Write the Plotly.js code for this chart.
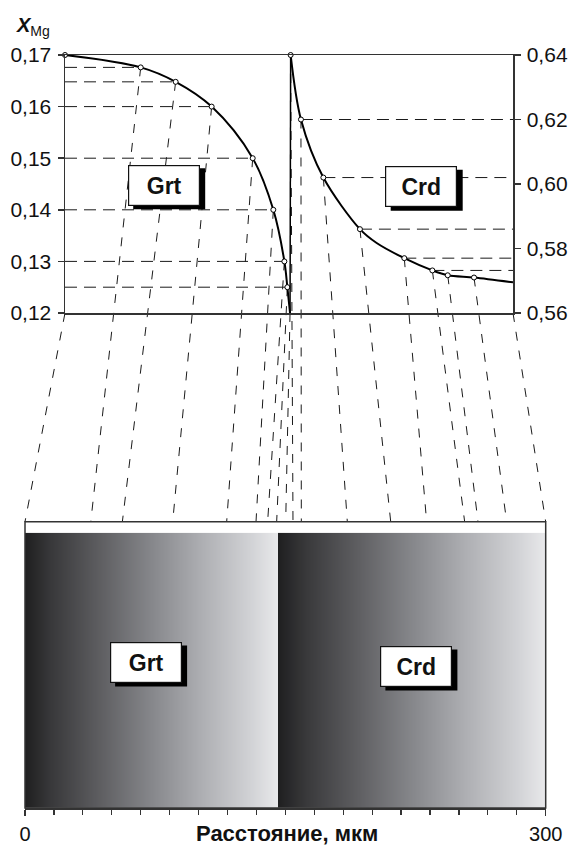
<!DOCTYPE html>
<html><head><meta charset="utf-8">
<script src="https://cdn.plot.ly/plotly-3.0.1.min.js"></script>
<style>html,body{margin:0;padding:0;background:#fff}#chart{width:568px;height:848px}</style>
</head><body><div id="chart"></div>
<script>
// ---------------- DATA ----------------
// Garnet (Grt): position on the profile plot (µm), X_Mg, and matching position on the grain sketch (µm)
const grtProfileX = [0, 50.7, 74.1, 98.2, 125.7, 139.5, 146.9, 148.9, 150.7];
const grtXMg      = [0.170, 0.1676, 0.1648, 0.160, 0.150, 0.140, 0.130, 0.125, 0.120];
const grtGrainX   = [0, 37.9, 56.1, 85.1, 116.2, 133.1, 139.8, 145.0, 150.2];
// Cordierite (Crd)
const crdProfileX = [151.1, 158.0, 173.0, 197.5, 227.2, 246.0, 256.3, 273.9, 300];
const crdXMg      = [0.640, 0.620, 0.602, 0.586, 0.577, 0.5732, 0.5717, 0.5710, 0.5695];
const crdGrainX   = [154.4, 159.2, 185.7, 210.7, 231.4, 253.3, 261.0, 277.5, 300];
// Crd curve vertices (includes the bend that carries no marker)
const crdCurveX = [151.1, 158.0, 173.0, 197.5, 208.7, 227.2, 246.0, 256.3, 273.9, 300];
const crdCurveY = [0.640, 0.620, 0.602, 0.586, 0.5817, 0.577, 0.5732, 0.5717, 0.5710, 0.5695];
// which points get a horizontal dashed guide to their axis
const grtGuideIdx = [1, 2, 3, 4, 5, 6, 7];
const crdGuideIdx = [1, 2, 3, 4, 5];
// axes ticks
const leftTicks  = [0.12, 0.13, 0.14, 0.15, 0.16, 0.17];
const rightTicks = [0.56, 0.58, 0.60, 0.62, 0.64];
const distTicks  = [0, 300];
const distMinorStep = 50 / 3;
// grain sketch shading (dark at the left of each grain, light at its right)
const shadeX     = [0, 145.5, 145.7, 300];
const shadeLevel = [0, 1, 0, 1];
const shadeRows  = [0, 1];

// ---------------- LAYOUT ----------------
const W = 568, H = 848;
const px = v => v / W, py = v => 1 - v / H;
const AX = '#333333';
const FONT = 'Liberation Sans, Arial, Helvetica, sans-serif';
const topYDomain = [py(313), py(55)];

const layout = {
  width: W, height: H,
  margin: {l: 0, r: 0, t: 0, b: 0},
  paper_bgcolor: '#ffffff', plot_bgcolor: 'rgba(0,0,0,0)',
  separators: ',.', showlegend: false,
  font: {family: FONT, size: 21, color: '#111'},
  xaxis: {domain: [px(65), px(513)], range: [0, 300], anchor: 'y',
    showline: true, mirror: true, linecolor: AX, linewidth: 1.5,
    showticklabels: false, ticks: '', showgrid: false, zeroline: false, fixedrange: true},
  yaxis: {domain: topYDomain, range: [0.12, 0.17], anchor: 'x',
    tickmode: 'array', tickvals: leftTicks, tickformat: '.2f',
    ticks: 'outside', ticklen: 6, tickwidth: 1.5, tickcolor: AX,
    showline: true, linecolor: AX, linewidth: 1.5, showgrid: false, zeroline: false,
    ticklabelstandoff: 2, tickfont: {size: 21}, fixedrange: true},
  yaxis2: {overlaying: 'y', side: 'right', anchor: 'x', range: [0.56, 0.64],
    tickmode: 'array', tickvals: rightTicks, tickformat: '.2f',
    ticks: 'outside', ticklen: 6, tickwidth: 1.5, tickcolor: AX,
    showline: true, linecolor: AX, linewidth: 1.5, showgrid: false, zeroline: false,
    ticklabelstandoff: 2, tickfont: {size: 21}, fixedrange: true},
  xaxis2: {domain: [px(25), px(545.7)], range: [0, 300], anchor: 'y3',
    tickmode: 'array', tickvals: distTicks,
    ticks: 'outside', ticklen: 6, tickwidth: 1.3, tickcolor: AX,
    minor: {tickmode: 'linear', tick0: 0, dtick: distMinorStep, ticks: 'outside', ticklen: 5, tickwidth: 1.2, tickcolor: AX},
    showline: true, linecolor: AX, linewidth: 1.5, showgrid: false, zeroline: false,
    tickfont: {size: 20}, ticklabelstandoff: 1, fixedrange: true},
  yaxis3: {domain: [py(808), py(532.7)], range: [-0.5, 1.5], anchor: 'x2',
    showline: false, showticklabels: false, ticks: '', showgrid: false, zeroline: false, fixedrange: true},
  shapes: [], annotations: []
};

// convert a data value to paper coordinates through an axis range and a domain
function toPaper(ax, v, domain) {
  const d = domain || ax.domain, r = ax.range;
  return d[0] + (v - r[0]) / (r[1] - r[0]) * (d[1] - d[0]);
}
const grainTopY = py(521.7);

// fan lines linking each profile point to its place on the grain sketch
function fan(x0p, y0p, xGrain) {
  layout.shapes.push({type: 'line', xref: 'paper', yref: 'paper', layer: 'below',
    x0: x0p, y0: y0p, x1: toPaper(layout.xaxis2, xGrain), y1: grainTopY,
    line: {color: '#1a1a1a', width: 1, dash: '9px,10px'}});
}
grtProfileX.forEach((x, i) => {
  const yv = i === 0 ? layout.yaxis.range[0] : grtXMg[i];
  fan(toPaper(layout.xaxis, x), toPaper(layout.yaxis, yv), grtGrainX[i]);
});
crdProfileX.forEach((x, i) => {
  const yv = i === crdProfileX.length - 1 ? layout.yaxis2.range[0] : crdXMg[i];
  fan(toPaper(layout.xaxis, x), toPaper(layout.yaxis2, yv, topYDomain), crdGrainX[i]);
});

// frame of the grain sketch
layout.shapes.push({type: 'rect', xref: 'paper', yref: 'paper', layer: 'above',
  x0: layout.xaxis2.domain[0], x1: layout.xaxis2.domain[1], y0: layout.yaxis3.domain[0], y1: grainTopY,
  line: {color: AX, width: 1.5}, fillcolor: 'rgba(0,0,0,0)'});

// ---------------- TRACES ----------------
const traces = [];
traces.push({type: 'heatmap', xaxis: 'x2', yaxis: 'y3', x: shadeX, y: shadeRows,
  z: [shadeLevel, shadeLevel], zmin: 0, zmax: 1, zsmooth: 'best', showscale: false, hoverinfo: 'skip',
  colorscale: [[0, '#1f1f20'], [0.1, '#38383a'], [0.3, '#5f5f62'], [0.5, '#86878b'],
               [0.7, '#aeafb3'], [0.9, '#d3d4d7'], [1, '#e9e9eb']]});
grtGuideIdx.forEach(i => traces.push({type: 'scatter', mode: 'lines', xaxis: 'x', yaxis: 'y',
  x: [layout.xaxis.range[0], grtProfileX[i]], y: [grtXMg[i], grtXMg[i]],
  line: {color: '#1a1a1a', width: 1, dash: '12px,7px'}, hoverinfo: 'skip'}));
crdGuideIdx.forEach(i => traces.push({type: 'scatter', mode: 'lines', xaxis: 'x', yaxis: 'y2',
  x: [crdProfileX[i], layout.xaxis.range[1]], y: [crdXMg[i], crdXMg[i]],
  line: {color: '#1a1a1a', width: 1, dash: '12px,7px'}, hoverinfo: 'skip'}));
traces.push({type: 'scatter', mode: 'lines', xaxis: 'x', yaxis: 'y', x: grtProfileX, y: grtXMg,
  line: {color: '#000', width: 2, shape: 'spline', smoothing: 1}, hoverinfo: 'skip'});
traces.push({type: 'scatter', mode: 'lines', xaxis: 'x', yaxis: 'y2',
  x: [grtProfileX[grtProfileX.length - 1], crdCurveX[0]], y: [layout.yaxis2.range[0], crdCurveY[0]],
  line: {color: '#000', width: 1.5}, hoverinfo: 'skip'});
traces.push({type: 'scatter', mode: 'lines', xaxis: 'x', yaxis: 'y2', x: crdCurveX, y: crdCurveY,
  line: {color: '#000', width: 2, shape: 'spline', smoothing: 0.9}, hoverinfo: 'skip'});
const mk = {symbol: 'circle', size: 5, color: '#fff', line: {color: '#000', width: 1}};
traces.push({type: 'scatter', mode: 'markers', xaxis: 'x', yaxis: 'y', cliponaxis: false,
  x: grtProfileX.slice(0, -1), y: grtXMg.slice(0, -1), marker: mk, hoverinfo: 'skip'});
traces.push({type: 'scatter', mode: 'markers', xaxis: 'x', yaxis: 'y2', cliponaxis: false,
  x: crdProfileX.slice(0, -1), y: crdXMg.slice(0, -1), marker: mk, hoverinfo: 'skip'});

// ---------------- LABELS ----------------
// drop shadow drawn as a plain black rectangle behind each label box
function box(text, cx, cy) {
  const w = 72, h = 41, sx = 5.5, sy = 3.8;
  layout.shapes.push({type: 'rect', xref: 'paper', yref: 'paper', layer: 'above',
    x0: px(cx - w / 2 + sx), x1: px(cx + w / 2 + sx), y0: py(cy + h / 2 + sy), y1: py(cy - h / 2 + sy),
    line: {width: 0}, fillcolor: '#000'});
  layout.annotations.push({text: '<b>' + text + '</b>', xref: 'paper', yref: 'paper', x: px(cx), y: py(cy),
    xanchor: 'center', yanchor: 'middle', showarrow: false, width: 70, height: 39,
    borderpad: 0, borderwidth: 1.2, bgcolor: '#fff', bordercolor: '#111',
    font: {size: 23, family: FONT, color: '#111'}});
}
box('Grt', 163.7, 185);
box('Crd', 421.2, 186.5);
box('Grt', 145.6, 662.2);
box('Crd', 415.9, 666.2);

layout.annotations.push({text: '<b><i>X</i></b><sub>Mg</sub>', xref: 'paper', yref: 'paper',
  x: px(14), y: py(27), xanchor: 'left', yanchor: 'middle', showarrow: false,
  font: {size: 20, family: FONT, color: '#111'}});
layout.annotations.push({text: '<b>Расстояние, мкм</b>', xref: 'paper', yref: 'paper',
  x: px(287), y: py(847.5), xanchor: 'center', yanchor: 'bottom', showarrow: false,
  font: {size: 22, family: FONT, color: '#111'}});

Plotly.newPlot('chart', traces, layout, {staticPlot: true, displayModeBar: false});
</script>
</body></html>
